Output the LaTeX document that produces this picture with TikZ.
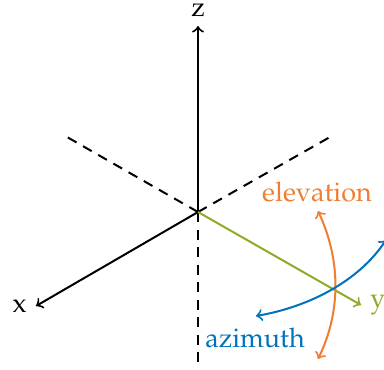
\documentclass[tikz,border=0pt]{standalone}
\usepackage[T1]{fontenc}
\usepackage{mathpazo}
\definecolor{elevcolor}{RGB}{240,125,50}
\definecolor{azimcolor}{RGB}{0,114,189}
\definecolor{ycolor}{RGB}{140,172,40}

\begin{document}
\begin{tikzpicture}[x=0.4pt, y=0.4pt, line width=0.8pt, font=\fontsize{10.8}{13}\selectfont]
	\clip (-198, -157) rectangle (186, 212);
	\coordinate (O) at (0, 0);
	\coordinate (X) at (-162, -94);
	\coordinate (Y) at (163, -93);
	\coordinate (Z) at (0, 186);
	% hidden parts of the axes
	\foreach \p in {(-131, 75), (132, 75), (0, -160)} {
		\draw [dash pattern=on 4pt off 3pt] (O) -- \p;
	}
	\draw [->] (O) -- (Z) node [above] (zlabel) {z};
	\draw [->] (O) -- (X) node [left] (xlabel) {x};
	\draw [->, ycolor] (O) -- (Y) node [right] (ylabel) {y};
	% angles
	\coordinate (E1) at (120, 1);
	\coordinate (E2) at (120, -147);
	\coordinate (A1) at (58, -104);
	\coordinate (A2) at (188, -28);
	\draw [<->, elevcolor] (E1) .. controls (143, -48) and (143, -100) .. (E2);
	\draw [<->, azimcolor] (A1) .. controls (110, -95) and (160, -70) .. (A2);
	\node [elevcolor] (elevation) at (119, 20) {elevation};
	\node [azimcolor] (azimuth) at (57, -126) {azimuth};
\end{tikzpicture}
\end{document}
